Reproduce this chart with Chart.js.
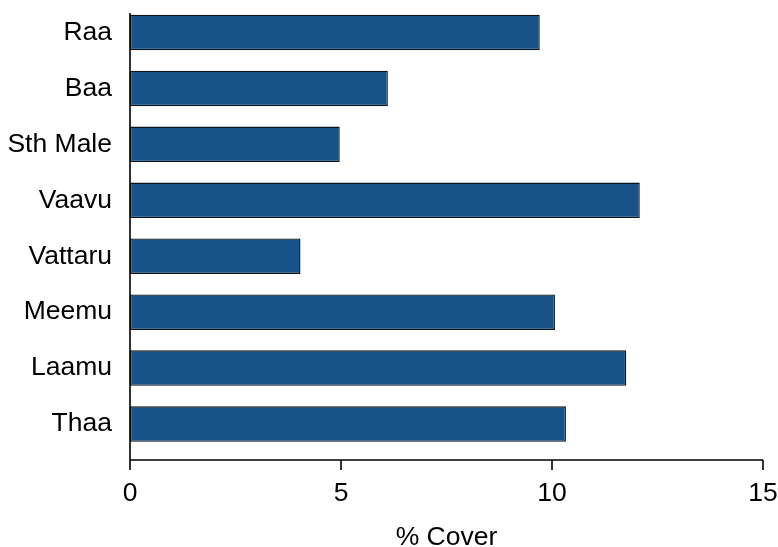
<!DOCTYPE html>
<html>
<head>
<meta charset="utf-8">
<script src="https://cdn.jsdelivr.net/npm/chart.js@4/dist/chart.umd.min.js"></script>
<style>
  html, body { margin: 0; padding: 0; background: #fff; }
  #wrap { width: 778px; height: 547px; }
</style>
</head>
<body>
<div id="wrap"><canvas id="chart"></canvas></div>
<script>
const atolls = ['Raa', 'Baa', 'Sth Male', 'Vaavu', 'Vattaru', 'Meemu', 'Laamu', 'Thaa'];
const cover = [9.71, 6.11, 4.97, 12.08, 4.04, 10.07, 11.76, 10.33];
const xTicks = [0, 5, 10, 15];

const FONT = 'Liberation Sans, Arial, Helvetica, sans-serif';

// R-style detached axes: x axis sits a bit below the bars
const axisLines = {
    id: 'axisLines',
    afterDraw(chart) {
        const ctx = chart.ctx;
        const xs = chart.scales.x;
        const area = chart.chartArea;
        const axisY = area.bottom + 8;
        ctx.save();
        ctx.strokeStyle = '#000';
        ctx.lineWidth = 1.6;
        ctx.beginPath();
        ctx.moveTo(xs.getPixelForValue(xTicks[0]), axisY);
        ctx.lineTo(xs.getPixelForValue(xTicks[xTicks.length - 1]), axisY);
        xTicks.forEach(t => {
            const px = xs.getPixelForValue(t);
            ctx.moveTo(px, axisY);
            ctx.lineTo(px, axisY + 10);
        });
        // y axis line
        const x0 = xs.getPixelForValue(0);
        ctx.moveTo(x0, area.top + 8.5);
        ctx.lineTo(x0, axisY);
        ctx.stroke();
        ctx.restore();
    }
};

new Chart(document.getElementById('chart').getContext('2d'), {
    type: 'bar',
    data: {
        labels: atolls,
        datasets: [{
            data: cover,
            backgroundColor: '#175386',
            borderColor: '#0b141d',
            borderWidth: 1.4,
            borderSkipped: false,
            categoryPercentage: 1,
            barPercentage: 0.635
        }]
    },
    options: {
        indexAxis: 'y',
        responsive: true,
        maintainAspectRatio: false,
        animation: false,
        layout: { padding: { top: 4.5, right: 15, left: 0, bottom: 0 } },
        scales: {
            x: {
                min: 0,
                max: 15,
                afterBuildTicks: s => { s.ticks = xTicks.map(v => ({ value: v })); },
                afterFit: s => { s.height = 95; s.paddingLeft = 0; s.paddingRight = 0; },
                grid: { display: false, drawTicks: false },
                border: { display: false },
                ticks: {
                    padding: 26,
                    color: '#000',
                    font: { family: FONT, size: 26.5 }
                },
                title: {
                    display: true,
                    text: '% Cover',
                    color: '#000',
                    padding: 0,
                    font: { family: FONT, size: 26.5, lineHeight: 0.72 }
                }
            },
            y: {
                afterFit: s => { s.width = 130; s.paddingTop = 0; s.paddingBottom = 0; },
                grid: { display: false, drawTicks: false },
                border: { display: false },
                ticks: {
                    padding: 18,
                    color: '#000',
                    font: { family: FONT, size: 26.5 }
                }
            }
        },
        plugins: {
            legend: { display: false },
            tooltip: { enabled: false }
        }
    },
    plugins: [axisLines]
});
</script>
</body>
</html>
